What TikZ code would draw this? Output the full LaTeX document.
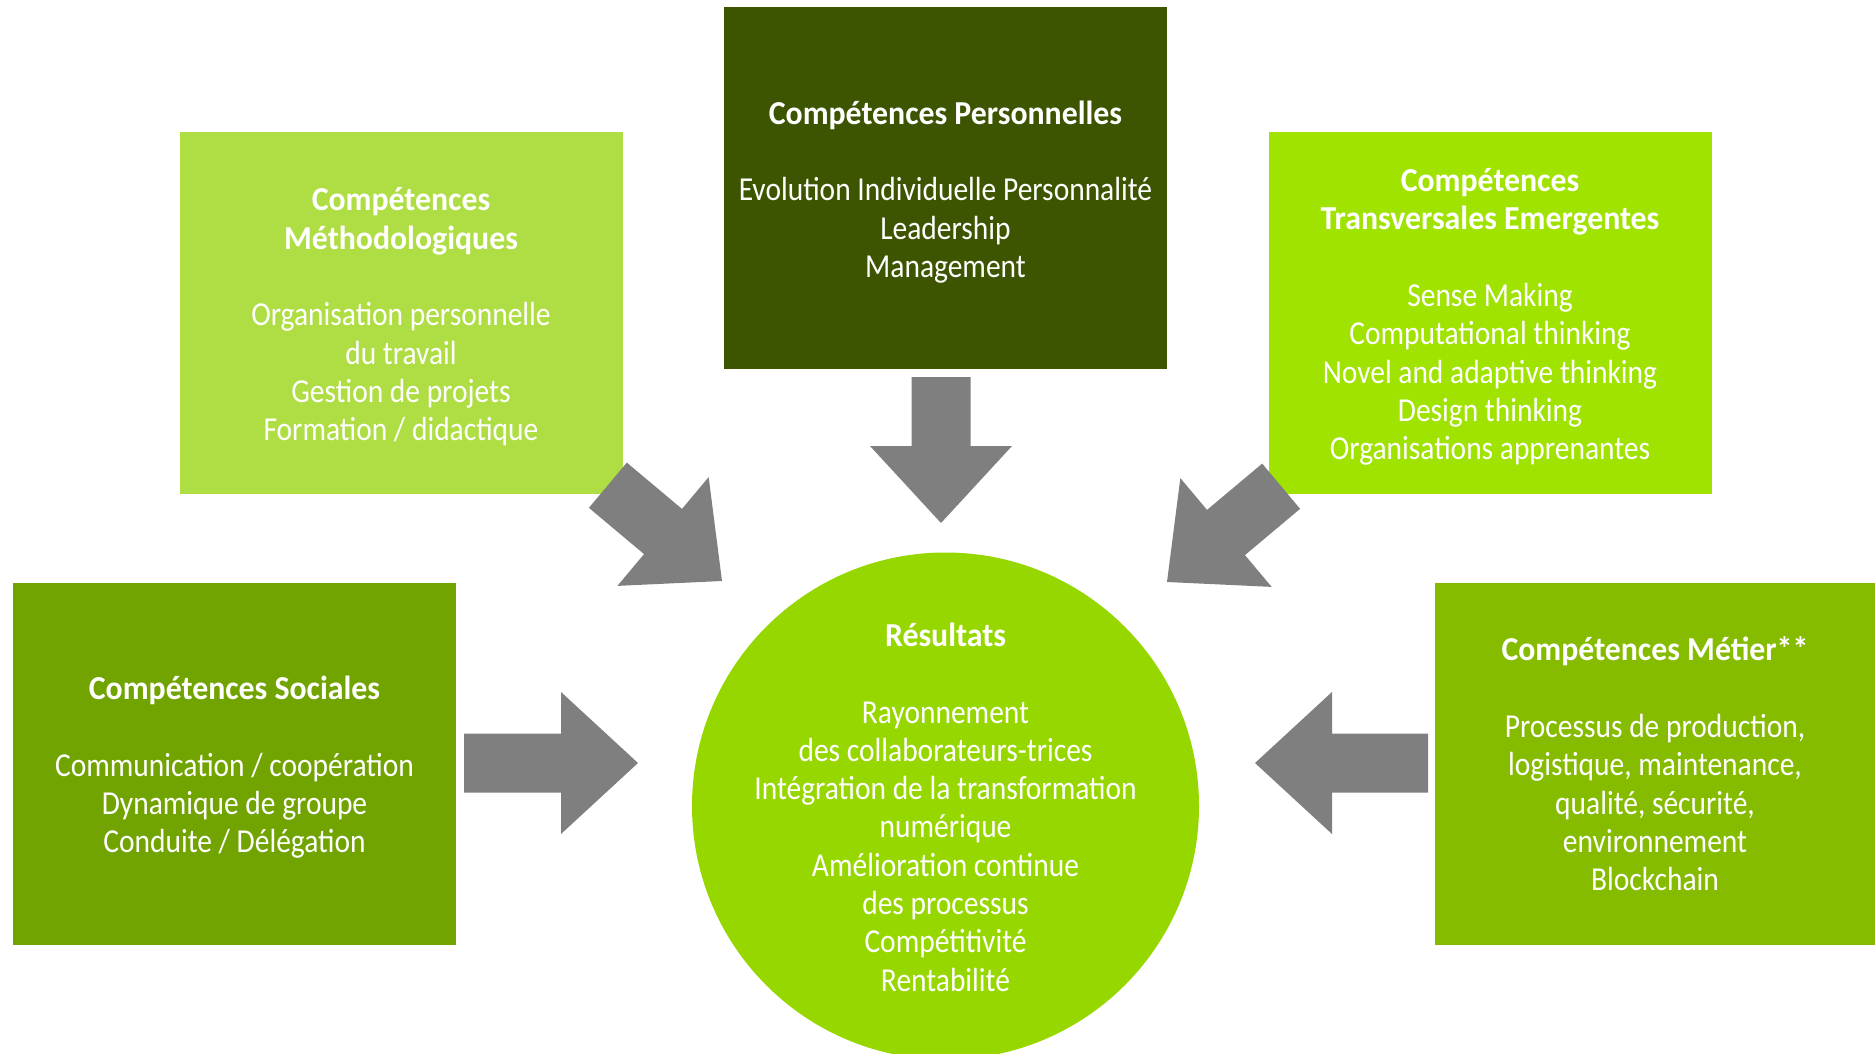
\documentclass[tikz,border=0pt]{standalone}
\usepackage{fontspec}
\setmainfont{Carlito}[FakeStretch=0.88,BoldFeatures={FakeStretch=0.95}]
\definecolor{persgreen}{HTML}{3D5500}
\definecolor{methgreen}{HTML}{AFDE44}
\definecolor{transgreen}{HTML}{A0E200}
\definecolor{socgreen}{HTML}{71A400}
\definecolor{metgreen}{HTML}{86BC00}
\definecolor{resgreen}{HTML}{97D700}
\definecolor{arrowgray}{HTML}{7F7F7F}
\newcommand{\bodyfont}{\fontsize{33.5}{38.3}\selectfont}
\begin{document}
\begin{tikzpicture}[x=1pt,y=-1pt,
  box/.style={rectangle, inner sep=0pt, minimum width=443pt, minimum height=362pt},
  resnode/.style={circle, inner sep=0pt, minimum size=507pt, fill=resgreen},
  boxtext/.style={inner sep=0pt, text=white, align=center, font=\bodyfont, yshift=-4pt},
  pics/grayarrow/.style={code={
    \fill[arrowgray] (-#1-77,-29.5) -- (-77,-29.5) -- (-77,-71) -- (0,0)
      -- (-77,71) -- (-77,29.5) -- (-#1-77,29.5) -- cycle;}}
]
\useasboundingbox (0,0) rectangle (1875,1054);
\clip (0,0) rectangle (1875,1054);

\node[box, fill=persgreen] (pers) at (945.5,188) {};
\node[boxtext] (perstext) at (pers.center)
  {\textbf{Compétences Personnelles}\\[38.3pt]
   Evolution Individuelle Personnalité\\ Leadership\\ Management};
\node[box, fill=methgreen] (meth) at (401,313) {};
\node[boxtext] (methtext) at (meth.center)
  {\textbf{Compétences}\\ \textbf{Méthodologiques}\\[38.3pt]
   Organisation personnelle\\ du travail\\ Gestion de projets\\ Formation / didactique};
\node[box, fill=transgreen] (trans) at (1490,313) {};
\node[boxtext] (transtext) at (trans.center)
  {\textbf{Compétences}\\ \textbf{Transversales Emergentes}\\[38.3pt]
   Sense Making\\ Computational thinking\\ Novel and adaptive thinking\\
   Design thinking\\ Organisations apprenantes};
\node[box, fill=socgreen] (soc) at (234.5,763.5) {};
\node[boxtext] (soctext) at (soc.center)
  {\textbf{Compétences Sociales}\\[38.3pt]
   Communication / coopération\\ Dynamique de groupe\\ Conduite / Délégation};
\node[box, fill=metgreen, minimum width=440pt] (met) at (1655,763.5) {};
\node[boxtext, yshift=3.6pt] (mettext) at (met.center)
  {\textbf{Compétences Métier**}\\[38.3pt]
   Processus de production,\\ logistique, maintenance,\\ qualité, sécurité,\\
   environnement\\ Blockchain};
\node[resnode] (res) at (945.5,806) {};
\node[boxtext, yshift=2.8pt] (restext) at (res.center)
  {\textbf{Résultats}\\[38.3pt]
   Rayonnement\\ des collaborateurs-trices\\ Intégration de la transformation\\
   numérique\\ Amélioration continue\\ des processus\\ Compétitivité\\ Rentabilité};

\pic[rotate=-90] (apers) at (941,523) {grayarrow=69};
\pic[rotate=-40] (ameth) at (722,581) {grayarrow=72};
\pic[rotate=-140] (atrans) at (1167,582) {grayarrow=72};
\pic (asoc) at (638,763) {grayarrow=97};
\pic[rotate=180] (amet) at (1255,763) {grayarrow=96};
\end{tikzpicture}
\end{document}
